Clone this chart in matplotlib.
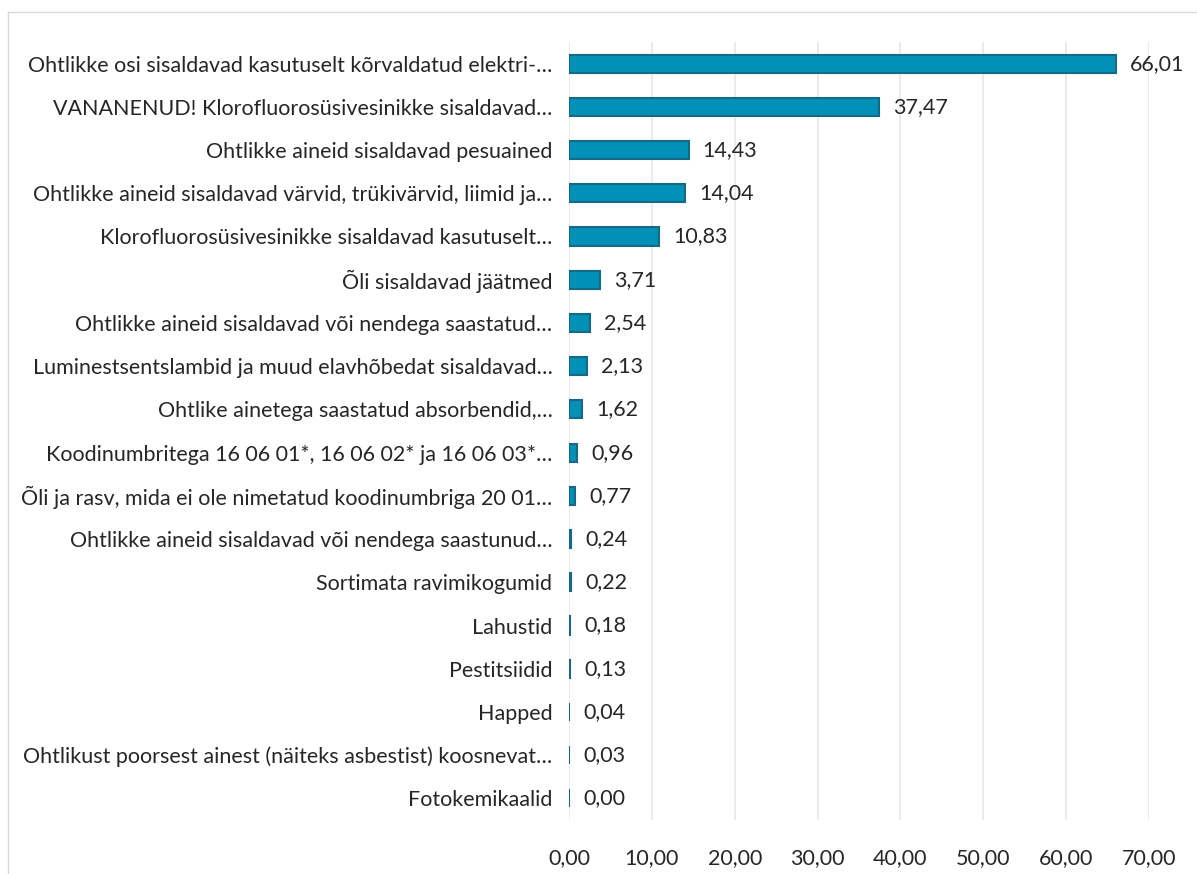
import matplotlib.pyplot as plt
from matplotlib.lines import Line2D

categories = [
    "Ohtlikke osi sisaldavad kasutuselt kõrvaldatud elektri-…",
    "VANANENUD! Klorofluorosüsivesinikke sisaldavad…",
    "Ohtlikke aineid sisaldavad pesuained",
    "Ohtlikke aineid sisaldavad värvid, trükivärvid, liimid ja…",
    "Klorofluorosüsivesinikke sisaldavad kasutuselt…",
    "Õli sisaldavad jäätmed",
    "Ohtlikke aineid sisaldavad või nendega saastatud…",
    "Luminestsentslambid ja muud elavhõbedat sisaldavad…",
    "Ohtlike ainetega saastatud absorbendid,…",
    "Koodinumbritega 16 06 01*, 16 06 02* ja 16 06 03*…",
    "Õli ja rasv, mida ei ole nimetatud koodinumbriga 20 01…",
    "Ohtlikke aineid sisaldavad või nendega saastunud…",
    "Sortimata ravimikogumid",
    "Lahustid",
    "Pestitsiidid",
    "Happed",
    "Ohtlikust poorsest ainest (näiteks asbestist) koosnevat…",
    "Fotokemikaalid",
]
values = [66.01, 37.47, 14.43, 14.04, 10.83, 3.71, 2.54, 2.13, 1.62,
          0.96, 0.77, 0.24, 0.22, 0.18, 0.13, 0.04, 0.03, 0.00]
ticks = [0, 10, 20, 30, 40, 50, 60, 70]

plt.rcParams['font.family'] = ['Lato', 'DejaVu Sans']
plt.rcParams['font.size'] = 15.5

fig = plt.figure(figsize=(11.97, 8.74), dpi=100)
ax = fig.add_axes([569 / 1197, 1 - 820 / 874, 580 / 1197, 778 / 874])

pos = list(range(len(categories)))
ax.barh(pos, values, height=0.42, color="#0090B8", edgecolor="#146A84",
        linewidth=1.5, zorder=3)
for p, v in zip(pos, values):
    ax.text(v + 1.7, p, f"{v:.2f}".replace(".", ","), va="center",
            ha="left", color="#262626", zorder=4)

ax.set_xlim(0, 70)
ax.set_ylim(len(categories) - 0.5, -0.5)
ax.set_yticks(pos)
ax.set_yticklabels(categories, color="#262626")
ax.set_xticks(ticks)
ax.set_xticklabels([f"{t:.2f}".replace(".", ",") for t in ticks], color="#262626")
ax.tick_params(axis="both", length=0)
ax.tick_params(axis="x", pad=20)
ax.tick_params(axis="y", pad=12)
ax.grid(axis="x", color="#E8E8E8", linewidth=1.2, zorder=0)
for s in ax.spines.values():
    s.set_visible(False)

# outer chart border (left and top edges visible in reference)
fig.add_artist(Line2D([8 / 1197, 8 / 1197], [0, 1 - 12 / 874],
                      transform=fig.transFigure, color="#D9D9D9", linewidth=1))
fig.add_artist(Line2D([8 / 1197, 1], [1 - 12 / 874, 1 - 12 / 874],
                      transform=fig.transFigure, color="#D9D9D9", linewidth=1))

fig.savefig("out.png", dpi=100)
